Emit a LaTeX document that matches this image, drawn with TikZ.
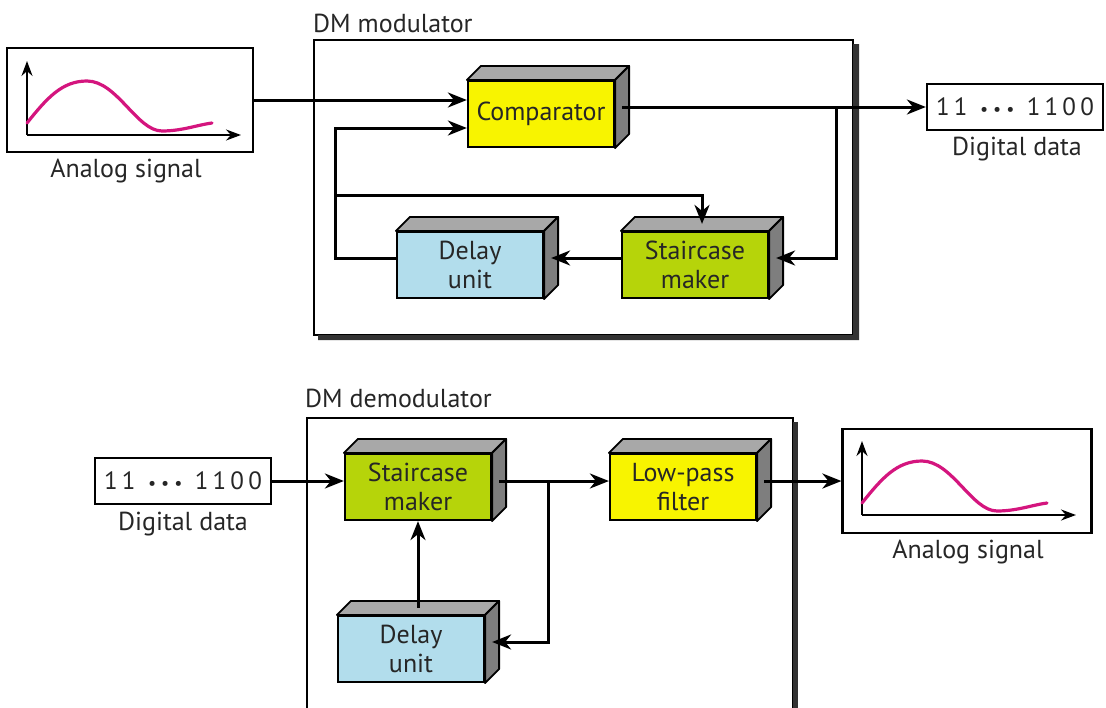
\documentclass[tikz,border=0pt]{standalone}
\usepackage{fontspec}
\setmainfont{PT Sans}
\usetikzlibrary{arrows.meta}

\definecolor{cmpyellow}{HTML}{F8F400}
\definecolor{stairgreen}{HTML}{B6D40A}
\definecolor{delayblue}{HTML}{B2DDEC}
\definecolor{topgray}{HTML}{A8A8A8}
\definecolor{sidegray}{HTML}{7E7E7E}
\definecolor{sigpink}{HTML}{D4157E}

\newcommand{\bitstream}{1\,1\enspace{\fontsize{18}{18}\selectfont•\hspace{5pt}•\hspace{5pt}•}\enspace1\,1\,0\,0}

\tikzset{
  block/.style={draw, line width=2.2pt, minimum width=146pt, minimum height=66pt,
    align=center, inner sep=0pt, font=\fontsize{26}{29}\selectfont, text=black!85},
  databox/.style={draw, line width=2.2pt, minimum width=176pt, minimum height=46pt,
    inner sep=0pt, font=\fontsize{25}{28}\selectfont, text=black!85},
  sigbox/.style={draw, line width=2.2pt, minimum width=246pt, minimum height=104pt, inner sep=0pt},
  lbl/.style={font=\fontsize{26}{29}\selectfont, text=black!85, inner sep=0pt},
  wire/.style={line width=3pt},
  arr/.style={wire, -{Stealth[length=19pt,width=15pt,inset=6pt]}},
}

\begin{document}
\begin{tikzpicture}[x=1pt,y=-1pt]
    \useasboundingbox (0,0) rectangle (1106,707);

    % Frames with shadow
    \draw[line width=2.2pt] (314,40) rectangle (853,335);
    \fill[black!80] (853,44) -- (859,44) -- (859,340) -- (318,340) -- (318,335) -- (853,335) -- cycle;
    \draw[line width=2.2pt] (307,418) rectangle (793,712);
    \fill[black!80] (793,422) -- (798,422) -- (798,712) -- (793,712) -- cycle;
    \node[lbl, anchor=base west] (modlbl) at (313,32) {DM modulator};
    \node[lbl, anchor=base west] (demlbl) at (305,407) {DM demodulator};

    % Signal boxes and data boxes
    \node[sigbox] (sigA) at (130,100) {};
    \node[sigbox, minimum width=249pt] (sigB) at (967,481) {};
    \node[lbl, anchor=base] (sigAlbl) at (126,177) {Analog signal};
    \node[lbl, anchor=base] (sigBlbl) at (968,558) {Analog signal};
    \node[databox] (dataA) at (1015,107) {\bitstream};
    \node[databox] (dataB) at (183,481) {\bitstream};
    \node[lbl, anchor=base] (dataAlbl) at (1017,155) {Digital data};
    \node[lbl, anchor=base] (dataBlbl) at (183,530) {Digital data};

    % Axes and curves
    \foreach \ox/\oy in {27/135, 862/515} {
        \draw[line width=2.2pt, -{Stealth[length=15pt,width=11pt,inset=5pt]}] (\ox,\oy) -- ++(0,-74);
        \draw[line width=2.2pt, -{Stealth[length=15pt,width=11pt,inset=5pt]}] (\ox,\oy) -- ++(214,0);
        \draw[sigpink, line width=3.2pt, line cap=round]
            (\ox,\oy) ++(0,-12) .. controls ++(20,-25) and ++(-25,0) .. ++(60,-42)
            .. controls ++(30,0) and ++(-25,0) .. ++(75,50)
            .. controls ++(20,0) and ++(-15,2) .. ++(50,-8);
    }

    % Blocks
    \node[block, fill=cmpyellow] (cmp) at (541,114) {Comparator};
    \node[block, fill=stairgreen] (stairA) at (695,265) {Staircase\\maker};
    \node[block, fill=delayblue] (delayA) at (470,265) {Delay\\unit};
    \node[block, fill=stairgreen] (stairB) at (418,487) {Staircase\\maker};
    \node[block, fill=cmpyellow] (lpf) at (683,487) {Low-pass\\filter};
    \node[block, fill=delayblue] (delayB) at (411,649) {Delay\\unit};

    % Top and side faces
    \foreach \n in {cmp,stairA,delayA,stairB,lpf,delayB} {
        \filldraw[fill=topgray, line width=1.8pt, line join=round]
            (\n.north west) -- ++(14,-14) -- ([shift={(14,-14)}]\n.north east) -- (\n.north east) -- cycle;
        \filldraw[fill=sidegray, line width=1.8pt, line join=round]
            (\n.north east) -- ++(14,-14) -- ([shift={(14,-14)}]\n.south east) -- (\n.south east) -- cycle;
    }

    % Modulator wires
    \coordinate (tapA) at (836,107);
    \coordinate (fbx) at (335,195);
    \draw[arr] (sigA.east) -- (sigA.east -| cmp.west);
    \draw[arr] ([shift={(7,-7)}]cmp.east) -- (dataA.west);
    \draw[arr] (tapA) |- ([shift={(7,-7)}]stairA.east);
    \draw[arr] ([yshift=7pt]stairA.west) -- ([shift={(7,-7)}]delayA.east);
    \draw[arr] ([yshift=7pt]delayA.west) -| (fbx) |- ([yshift=-14pt]cmp.west);
    \draw[arr] (fbx) -| ([shift={(7,-7)}]stairA.north);

    % Demodulator wires
    \coordinate (tapB) at (548,481);
    \draw[arr] (dataB.east) -- (dataB.east -| stairB.west);
    \draw[arr] ([shift={(7,-6)}]stairB.east) -- (tapB -| lpf.west);
    \draw[arr] ([shift={(7,-6)}]lpf.east) -- (sigB.west);
    \draw[arr] (tapB) |- ([shift={(7,-7)}]delayB.east);
    \draw[arr] ([shift={(7,-7)}]delayB.north) -- (stairB.south);
\end{tikzpicture}
\end{document}
